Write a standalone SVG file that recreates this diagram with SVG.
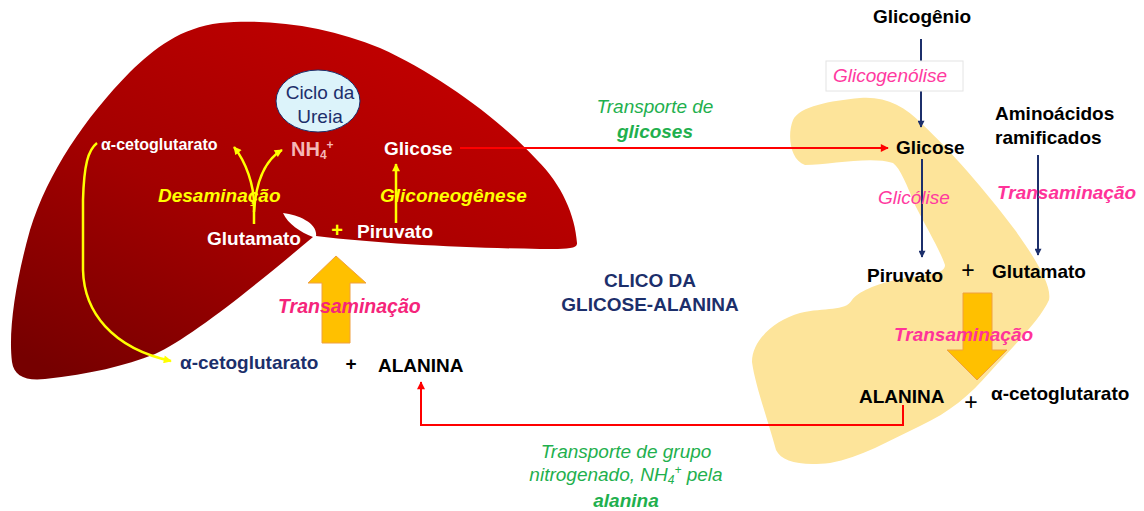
<svg xmlns="http://www.w3.org/2000/svg" width="1144" height="511" viewBox="0 0 1144 511">
  <defs>
    <linearGradient id="liverFill" x1="0.85" y1="0.1" x2="0.1" y2="1">
      <stop offset="0" stop-color="#c40000"/>
      <stop offset="0.55" stop-color="#a30000"/>
      <stop offset="1" stop-color="#760000"/>
    </linearGradient>
    <marker id="ahYellow" viewBox="0 0 10 10" refX="9" refY="5" markerWidth="9" markerHeight="8" markerUnits="userSpaceOnUse" orient="auto">
      <path d="M0 0 L10 5 L0 10 Z" fill="#ffff00"/>
    </marker>
    <marker id="ahRed" viewBox="0 0 10 10" refX="9" refY="5" markerWidth="9" markerHeight="8" markerUnits="userSpaceOnUse" orient="auto">
      <path d="M0 0 L10 5 L0 10 Z" fill="#ff0000"/>
    </marker>
    <marker id="ahNavy" viewBox="0 0 10 10" refX="9" refY="5" markerWidth="8" markerHeight="7" markerUnits="userSpaceOnUse" orient="auto">
      <path d="M0 0 L10 5 L0 10 Z" fill="#1c2f6b"/>
    </marker>
  </defs>
  <style>
    text { font-family: "Liberation Sans", Arial, sans-serif; }
    .b { font-weight: bold; font-size: 19px; }
    .w { fill: #ffffff; }
    .k { fill: #000000; }
    .navy { fill: #1c2f6b; }
    .yel { fill: #ffff00; font-weight: bold; font-style: italic; font-size: 19px; }
    .pinkB { font-weight: bold; font-style: italic; font-size: 19px; fill: #ff3399; }
    .pinkN { font-style: italic; font-size: 19px; fill: #ff3aa0; }
    .green { fill: #1fb04e; font-style: italic; font-size: 19px; }
    .yline { fill: none; stroke: #ffff00; stroke-width: 2.5; }
    .rline { fill: none; stroke: #ff0000; stroke-width: 2; }
    .nline { fill: none; stroke: #1c2f6b; stroke-width: 2; }
    .big-arrow { fill: #ffc000; stroke: #f0a040; stroke-width: 1; }
  </style>

  <!-- liver -->
  <g id="liver">
    <path fill="url(#liverFill)" d="M 316 236 C 380 244, 470 248, 540 249 C 560 249, 578 250, 577 243 C 575 215, 562 185, 537 160 C 500 120, 440 75, 380 48 C 330 27, 270 18, 220 23 C 180 28, 155 48, 130 72 C 85 118, 48 172, 30 230 C 16 280, 8 330, 12 362 C 14 376, 25 381, 45 379 C 90 374, 125 366, 155 354 C 190 338, 250 290, 313 237 C 300 232, 288 224, 283 213 C 300 215, 318 224, 316 236 Z"/>
  </g>

  <!-- muscle -->
  <g id="muscle">
    <path fill="#fde49a" d="M 793 120 C 800 106, 830 101, 860 98 C 885 96, 905 106, 922 124 C 950 150, 985 190, 1015 230 C 1035 258, 1052 285, 1049 300 C 1040 320, 1010 350, 990 372 C 970 395, 950 412, 920 426 C 890 440, 860 458, 830 463 C 800 466, 782 462, 776 450 C 768 420, 755 385, 752 362 C 752 340, 775 320, 800 313 C 825 307, 845 312, 852 300 C 858 292, 875 284, 900 279 C 925 274, 945 275, 945 265 C 940 250, 925 225, 915 205 C 907 185, 900 168, 893 163 C 870 156, 830 165, 805 165 C 790 160, 787 135, 793 120 Z"/>
  </g>

  <!-- urea cycle -->
  <g id="ciclo-ureia">
    <ellipse cx="318" cy="101" rx="42" ry="31" fill="#dcf3fa" stroke="#1c2f6b" stroke-width="1"/>
    <text x="320" y="99" text-anchor="middle" font-size="19" class="navy">Ciclo da</text>
    <text x="320" y="123" text-anchor="middle" font-size="19" class="navy">Ureia</text>
  </g>

  <!-- big transamination arrows -->
  <g id="seta-figado">
    <path class="big-arrow" d="M 322 343 L 350 343 L 350 283 L 366 283 L 336 256 L 308 283 L 322 283 Z"/>
  </g>
  <g id="seta-musculo">
    <path class="big-arrow" d="M 963 293 L 992 293 L 992 350 L 1007 350 L 977 380 L 947 350 L 963 350 Z"/>
  </g>

  <!-- connectors -->
  <g id="connectors">
    <path class="yline" d="M 254 224 L 254 205 C 254 185, 246 162, 234 147" marker-end="url(#ahYellow)"/>
    <path class="yline" d="M 254 212 C 256 180, 265 160, 282 150" marker-end="url(#ahYellow)"/>
    <path class="yline" d="M 396 223 L 396 164" marker-end="url(#ahYellow)"/>
    <path class="yline" d="M 97 143 C 88 150, 84 165, 83 200 L 83 270 C 84 312, 112 348, 171 361" marker-end="url(#ahYellow)"/>
    <path class="rline" d="M 460 148 L 888 148" marker-end="url(#ahRed)"/>
    <path class="rline" d="M 903 405 L 903 425 L 421 425 L 421 382" marker-end="url(#ahRed)"/>
    <path class="nline" d="M 921 39 L 921 61"/>
    <path class="nline" d="M 921 91 L 921 127" marker-end="url(#ahNavy)"/>
    <path class="nline" d="M 922 159 L 922 257" marker-end="url(#ahNavy)"/>
    <path class="nline" d="M 1038 155 L 1038 255" marker-end="url(#ahNavy)"/>
  </g>

  <!-- liver labels -->
  <g id="figado-textos">
    <text x="101" y="150" font-size="16" font-weight="bold" class="w">α-cetoglutarato</text>
    <text x="291" y="156" font-size="20" font-weight="bold" fill="#f5b7b7">NH<tspan font-size="12" dy="3">4</tspan><tspan font-size="12" dy="-10">+</tspan></text>
    <text x="384" y="155" class="b w">Glicose</text>
    <text x="158" y="202" class="yel">Desaminação</text>
    <text x="380" y="202" class="yel">Gliconeogênese</text>
    <text x="207" y="245" class="b w">Glutamato</text>
    <text x="337" y="237" text-anchor="middle" font-size="20" font-weight="bold" fill="#ffff00">+</text>
    <text x="357" y="238" class="b w">Piruvato</text>
    <text x="278" y="313" font-weight="bold" font-style="italic" font-size="19.5" fill="#f5247a">Transaminação</text>
    <text x="180" y="369" class="b navy">α-cetoglutarato</text>
    <text x="351" y="370" text-anchor="middle" class="b k">+</text>
    <text x="378" y="372" class="b k">ALANINA</text>
  </g>

  <!-- centre labels -->
  <g id="titulo">
    <text x="650" y="287" text-anchor="middle" class="b navy">CLICO DA</text>
    <text x="650" y="311" text-anchor="middle" class="b navy">GLICOSE-ALANINA</text>
  </g>
  <g id="transporte-glicose">
    <text x="655" y="113" text-anchor="middle" class="green">Transporte de</text>
    <text x="655" y="138" text-anchor="middle" class="green" font-weight="bold" font-size="23">glicoses</text>
  </g>
  <g id="transporte-alanina">
    <text x="626" y="458" text-anchor="middle" class="green">Transporte de grupo</text>
    <text x="626" y="481" text-anchor="middle" class="green">nitrogenado, NH<tspan font-size="12" dy="3">4</tspan><tspan font-size="12" dy="-10">+</tspan><tspan dy="7"> pela</tspan></text>
    <text x="626" y="507" text-anchor="middle" class="green" font-weight="bold" font-size="22.5">alanina</text>
  </g>

  <!-- muscle labels -->
  <g id="musculo-textos">
    <text x="922" y="23" text-anchor="middle" class="b k">Glicogênio</text>
    <g id="glicogenolise">
      <rect x="826" y="61" width="137" height="30" fill="#ffffff" stroke="#e4e4e4" stroke-width="1"/>
      <text x="833" y="82" class="pinkN">Glicogenólise</text>
    </g>
    <text x="896" y="154" class="b k">Glicose</text>
    <text x="995" y="120" class="b k">Aminoácidos</text>
    <text x="995" y="144" class="b k">ramificados</text>
    <text x="878" y="204" class="pinkN">Glicólise</text>
    <text x="997" y="199" class="pinkB">Transaminação</text>
    <text x="867" y="282" class="b k">Piruvato</text>
    <text x="968" y="278" text-anchor="middle" font-size="23" class="k">+</text>
    <text x="992" y="278" class="b k">Glutamato</text>
    <text x="894" y="341" class="pinkB">Transaminação</text>
    <text x="859" y="403" class="b k">ALANINA</text>
    <text x="971" y="410" text-anchor="middle" font-size="23" class="k">+</text>
    <text x="991" y="400" class="b k">α-cetoglutarato</text>
  </g>
</svg>
